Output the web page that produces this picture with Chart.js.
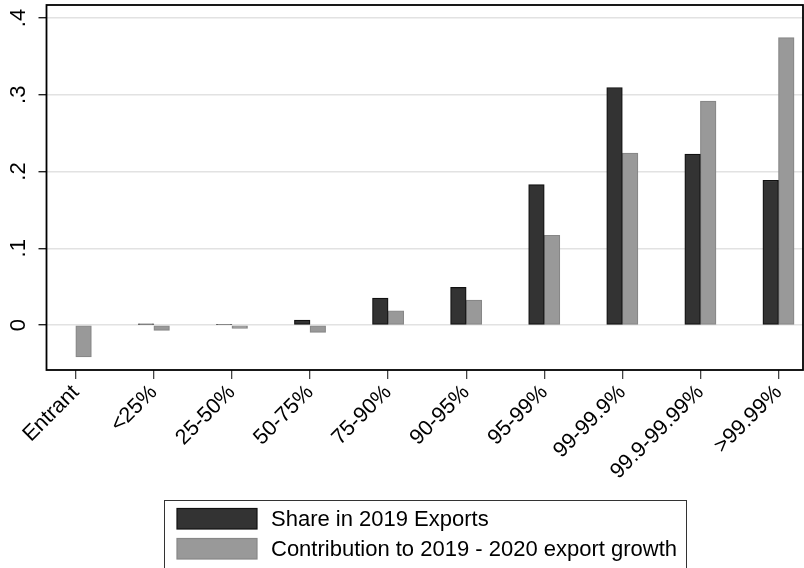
<!DOCTYPE html>
<html>
<head>
<meta charset="utf-8">
<script src="https://cdn.jsdelivr.net/npm/chart.js@4.4.1/dist/chart.umd.min.js"></script>
<style>
  html, body { margin: 0; padding: 0; background: #fff; }
  #wrap { width: 804px; height: 568px; position: relative; }
</style>
</head>
<body>
<div id="wrap"><canvas id="grafico"></canvas></div>
<script>
// Dados (faixas de exportadores)
const categorias = ["Entrant", "<25%", "25-50%", "50-75%", "75-90%", "90-95%", "95-99%", "99-99.9%", "99.9-99.99%", ">99.99%"];
const shareExports  = [null, 0.0017, 0.0010, 0.0065, 0.035, 0.049, 0.183, 0.3095, 0.2227, 0.1886];
const contribGrowth = [-0.0416, -0.0070, -0.0044, -0.0095, 0.0186, 0.0325, 0.117, 0.224, 0.2917, 0.3745];
const yTicks      = [0, 0.1, 0.2, 0.3, 0.4];
const yTickLabels = ["0", ".1", ".2", ".3", ".4"];
const legendas    = ["Share in 2019 Exports", "Contribution to 2019 - 2020 export growth"];

const FONTE = "'Liberation Sans', Arial, sans-serif";

// cada barra vira um ponto {x, y} no eixo linear
const pontos = arr => arr.map((v, i) => ({ x: i, y: v }));

// Rótulos do eixo Y na vertical (estilo Stata), moldura e legenda em caixa
const extras = {
  id: "extras",
  afterDraw(chart) {
    const { ctx, chartArea: a, scales } = chart;
    ctx.save();

    // moldura do gráfico
    ctx.strokeStyle = "#000";
    ctx.lineWidth = 1.8;
    ctx.strokeRect(a.left, a.top, a.right - a.left, a.bottom - a.top);

    // rótulos do eixo Y girados
    ctx.fillStyle = "#000";
    ctx.font = "22px " + FONTE;
    ctx.textAlign = "center";
    ctx.textBaseline = "middle";
    yTicks.forEach((v, i) => {
      const y = scales.y.getPixelForValue(v);
      ctx.save();
      ctx.translate(19, y);
      ctx.rotate(-Math.PI / 2);
      ctx.fillText(yTickLabels[i], 0, 0);
      ctx.restore();
    });

    // legenda
    ctx.strokeStyle = "#333";
    ctx.lineWidth = 1;
    ctx.strokeRect(164.5, 500.5, 522, 80);
    ctx.font = "22px " + FONTE;
    ctx.textAlign = "left";
    chart.data.datasets.forEach((ds, i) => {
      const y = 508.5 + i * 30;
      ctx.fillStyle = ds.backgroundColor;
      ctx.fillRect(177, y, 80, 20.5);
      ctx.strokeStyle = ds.borderColor;
      ctx.lineWidth = 1.2;
      ctx.strokeRect(177, y, 80, 20.5);
      ctx.fillStyle = "#000";
      ctx.fillText(ds.label, 271, y + 11);
    });
    ctx.restore();
  },
};

new Chart(document.getElementById("grafico"), {
  type: "bar",
  data: {
    datasets: [
      {
        label:           legendas[0],
        data:            pontos(shareExports),
        backgroundColor: "#333333",
        borderColor:     "#111111",
        borderWidth:     1.2,
        borderSkipped:   false,
        barThickness:    15.6,
      },
      {
        label:           legendas[1],
        data:            pontos(contribGrowth),
        backgroundColor: "#999999",
        borderColor:     "#878787",
        borderWidth:     1.2,
        borderSkipped:   false,
        barThickness:    15.6,
      },
    ],
  },
  options: {
    responsive:          true,
    maintainAspectRatio: false,
    animation:           false,
    layout: { padding: { top: 5, right: 1, left: 0, bottom: 0 } },
    plugins: {
      legend:  { display: false },
      tooltip: { enabled: false },
    },
    scales: {
      x: {
        type: "linear",
        offset: false,
        min: -0.375,
        max: 9.314,
        afterBuildTicks: s => { s.ticks = categorias.map((_, i) => ({ value: i })); },
        afterFit: s => { s.height = 198; },
        ticks: {
          autoSkip:    false,
          minRotation: 45,
          maxRotation: 45,
          padding:     1,
          color:       "#000",
          font:        { size: 21.5, family: FONTE },
          callback:    v => categorias[v],
        },
        grid: {
          offset:          false,
          drawOnChartArea: false,
          tickLength:      9,
          tickColor:       "#444",
          lineWidth:       1.3,
        },
        border: { display: false },
      },
      y: {
        type: "linear",
        min: -0.0586,
        max: 0.417,
        afterBuildTicks: s => { s.ticks = yTicks.map(v => ({ value: v })); },
        afterFit: s => { s.width = 46.5; },
        ticks: { display: false },
        grid: {
          color:      "#e2e2e2",
          lineWidth:  1.4,
          tickLength: 8,
          tickColor:  "#222",
        },
        border: { display: false },
      },
    },
  },
  plugins: [extras],
});
</script>
</body>
</html>
